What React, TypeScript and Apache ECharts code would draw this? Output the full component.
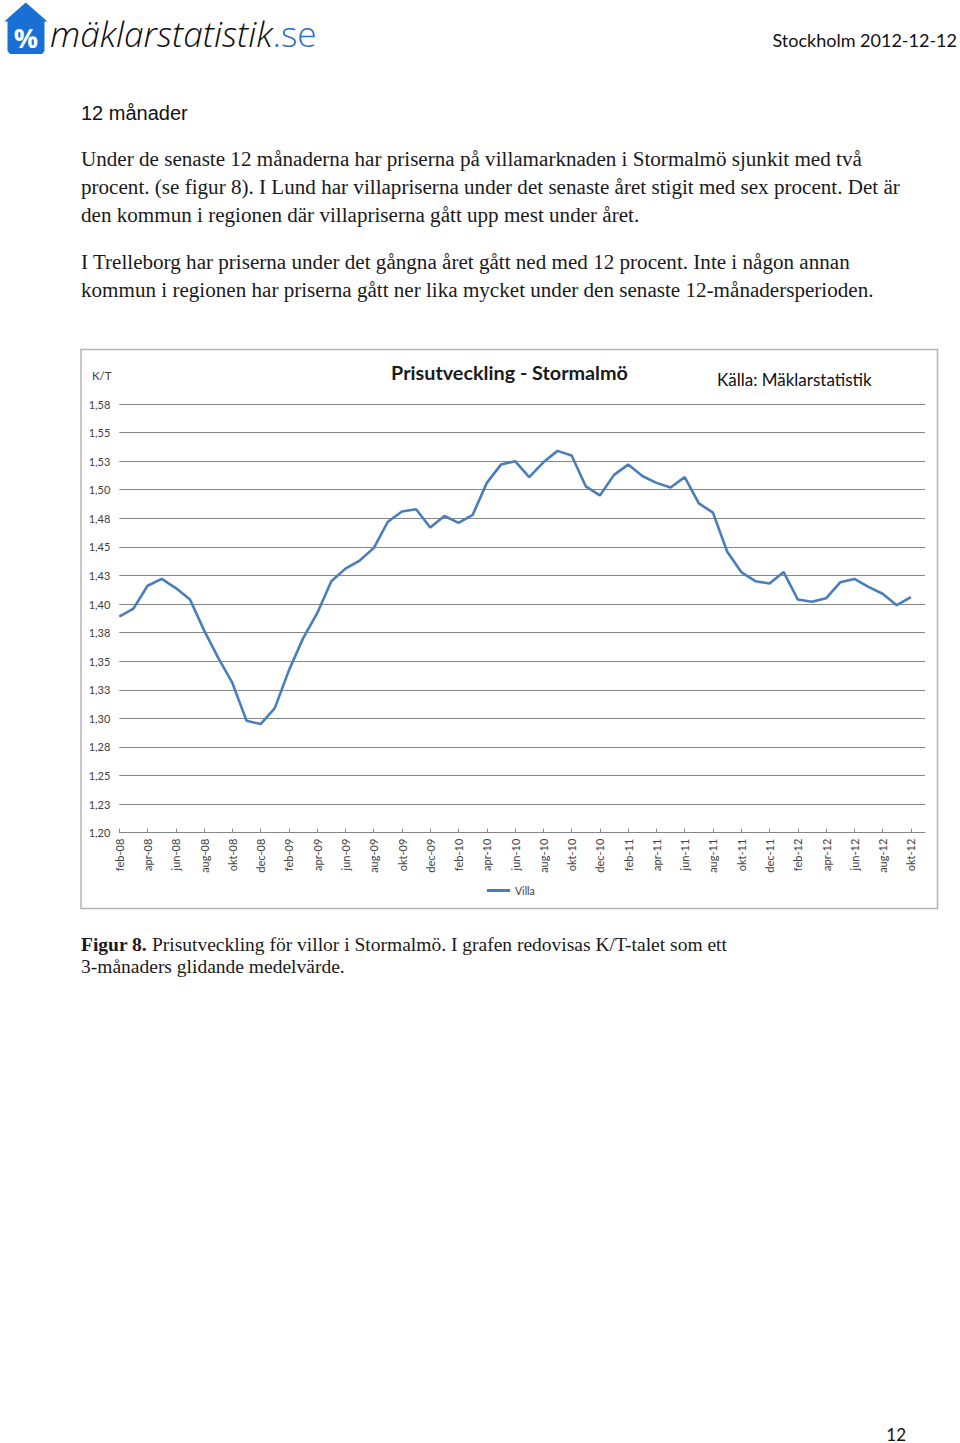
import React, { useEffect, useRef } from "react";
import * as echarts from "echarts";

const months: string[] = [
  "feb-08","mar-08","apr-08","maj-08","jun-08","jul-08","aug-08","sep-08","okt-08","nov-08","dec-08",
  "jan-09","feb-09","mar-09","apr-09","maj-09","jun-09","jul-09","aug-09","sep-09","okt-09","nov-09","dec-09",
  "jan-10","feb-10","mar-10","apr-10","maj-10","jun-10","jul-10","aug-10","sep-10","okt-10","nov-10","dec-10",
  "jan-11","feb-11","mar-11","apr-11","maj-11","jun-11","jul-11","aug-11","sep-11","okt-11","nov-11","dec-11",
  "jan-12","feb-12","mar-12","apr-12","maj-12","jun-12","jul-12","aug-12","sep-12","okt-12","nov-12",
];

const villa: number[] = [
  1.389, 1.396, 1.416, 1.422, 1.414, 1.404, 1.377, 1.353, 1.331, 1.298, 1.295,
  1.309, 1.342, 1.370, 1.392, 1.420, 1.431, 1.438, 1.449, 1.472, 1.481, 1.483, 1.467,
  1.477, 1.471, 1.478, 1.506, 1.522, 1.525, 1.511, 1.524, 1.534, 1.530, 1.503, 1.495,
  1.513, 1.522, 1.512, 1.506, 1.502, 1.511, 1.488, 1.480, 1.446, 1.428, 1.420, 1.418,
  1.428, 1.404, 1.402, 1.405, 1.419, 1.422, 1.415, 1.409, 1.399, 1.406,
];

const yTickLabels: string[] = [
  "1,20","1,23","1,25","1,28","1,30","1,33","1,35","1,38","1,40","1,43","1,45","1,48","1,50","1,53","1,55","1,58",
];

const seriesName = "Villa";
const chartTitle = "Prisutveckling - Stormalmö";
const sourceText = "Källa: Mäklarstatistik";
const yUnit = "K/T";

const paragraphLines: string[] = [
  "Under de senaste 12 månaderna har priserna på villamarknaden i Stormalmö sjunkit med två",
  "procent. (se figur 8). I Lund har villapriserna under det senaste året stigit med sex procent. Det är",
  "den kommun i regionen där villapriserna gått upp mest under året.",
  "I Trelleborg har priserna under det gångna året gått ned med 12 procent. Inte i någon annan",
  "kommun i regionen har priserna gått ner lika mycket under den senaste 12-månadersperioden.",
];
const paragraphY: number[] = [159, 187, 215, 262, 290];

export default function App() {
  const ref = useRef<HTMLDivElement>(null);
  useEffect(() => {
    if (!ref.current) return;
    const chart = echarts.init(ref.current, null, { renderer: "svg" });
    const serif = "'Liberation Serif', 'DejaVu Serif', serif";
    const sans = "Lato, 'Noto Sans', sans-serif";
    const graphics: any[] = [
      // logo house
      {
        type: "polygon",
        shape: {
          points: [
            [25.7, 2.5], [47.5, 21.5], [44.5, 21.5], [44.5, 51], [42, 54], [10, 54], [7.5, 51], [7.5, 21.5], [4.3, 21.5],
          ],
        },
        style: { fill: "#1a6fd4" },
      },
      {
        type: "text",
        x: 26,
        y: 37,
        style: { text: "%", fill: "#ffffff", fontSize: 27, fontWeight: "bold", fontFamily: "'Open Sans', sans-serif", align: "center", verticalAlign: "middle" },
      },
      {
        type: "text",
        x: 50,
        y: 33,
        style: {
          text: "{a|mäklarstatistik}{b|.se}",
          verticalAlign: "middle",
          rich: {
            a: { fontSize: 35.3, fontStyle: "italic", fontWeight: 300, fontFamily: "'Open Sans', sans-serif", fill: "#0d0d0d" },
            b: { fontSize: 35.3, fontWeight: 300, fontFamily: "'Open Sans', sans-serif", fill: "#2f6fc4" },
          },
        },
      },
      {
        type: "text",
        x: 957,
        y: 40,
        style: { text: "Stockholm 2012-12-12", fill: "#111", fontSize: 18, fontFamily: sans, align: "right", verticalAlign: "middle" },
      },
      {
        type: "text",
        x: 81,
        y: 113,
        style: { text: "12 månader", fill: "#111", fontSize: 20, fontFamily: "'Liberation Sans', Arial, sans-serif", verticalAlign: "middle" },
      },
      ...paragraphLines.map((t, i) => ({
        type: "text",
        x: 81,
        y: paragraphY[i],
        style: { text: t, fill: "#1a1a1a", fontSize: 21.1, fontFamily: serif, verticalAlign: "middle" },
      })),
      // chart frame
      {
        type: "rect",
        shape: { x: 81, y: 349.5, width: 856.5, height: 559 },
        style: { fill: "none", stroke: "#b4b4b4", lineWidth: 1.5 },
      },
      {
        type: "text",
        x: 509.5,
        y: 372,
        style: { text: chartTitle, fill: "#1a1a1a", fontSize: 19.8, fontWeight: "bold", fontFamily: sans, align: "center", verticalAlign: "middle" },
      },
      {
        type: "text",
        x: 717,
        y: 379,
        style: { text: sourceText, fill: "#111", fontSize: 17, fontFamily: sans, verticalAlign: "middle" },
      },
      {
        type: "text",
        x: 92,
        y: 375,
        style: { text: yUnit, fill: "#404040", fontSize: 11.5, fontFamily: sans, verticalAlign: "middle" },
      },
      {
        type: "text",
        x: 81,
        y: 944,
        style: {
          text: "{b|Figur 8.} Prisutveckling för villor i Stormalmö. I grafen redovisas K/T-talet som ett",
          fill: "#1a1a1a",
          fontSize: 19.5,
          fontFamily: serif,
          verticalAlign: "middle",
          rich: { b: { fontWeight: "bold", fontSize: 19.5, fontFamily: serif, fill: "#1a1a1a" } },
        },
      },
      {
        type: "text",
        x: 81,
        y: 966,
        style: { text: "3-månaders glidande medelvärde.", fill: "#1a1a1a", fontSize: 19.5, fontFamily: serif, verticalAlign: "middle" },
      },
      {
        type: "text",
        x: 906,
        y: 1434,
        style: { text: "12", fill: "#111", fontSize: 17, fontFamily: sans, align: "right", verticalAlign: "middle" },
      },
    ];

    chart.setOption({
      animation: false,
      backgroundColor: "#ffffff",
      grid: { left: 119.3, top: 404, right: 35, bottom: 1443 - 832.7, containLabel: false },
      legend: {
        data: [seriesName],
        left: 482,
        top: 880,
        icon: "rect",
        itemWidth: 23,
        itemHeight: 3,
        itemGap: 5,
        textStyle: { fontSize: 10.5, color: "#404040", fontFamily: sans },
      },
      xAxis: {
        type: "category",
        data: months,
        boundaryGap: false,
        axisLine: { show: true, lineStyle: { color: "#868686", width: 1 } },
        axisTick: { show: true, interval: 1, inside: true, length: 4, lineStyle: { color: "#868686" } },
        axisLabel: { interval: 1, rotate: 90, fontSize: 11, color: "#404040", fontFamily: sans, margin: 6 },
        splitLine: { show: false },
      },
      yAxis: {
        type: "value",
        min: 1.2,
        max: 1.575,
        interval: 0.025,
        axisLine: { show: false },
        axisTick: { show: false },
        axisLabel: {
          fontSize: 11,
          color: "#404040",
          fontFamily: sans,
          margin: 9,
          formatter: (_v: number, i: number) => yTickLabels[i] ?? "",
        },
        splitLine: { show: true, lineStyle: { color: "#868686", width: 1 } },
      },
      series: [
        {
          name: seriesName,
          type: "line",
          data: villa,
          showSymbol: false,
          symbol: "none",
          lineStyle: { color: "#4a7ebb", width: 2.6 },
          itemStyle: { color: "#4a7ebb" },
        },
      ],
      graphic: graphics,
    });
    return () => chart.dispose();
  }, []);
  return <div ref={ref} style={{ position: "absolute", left: 0, top: 0, width: 960, height: 1443 }} />;
}
